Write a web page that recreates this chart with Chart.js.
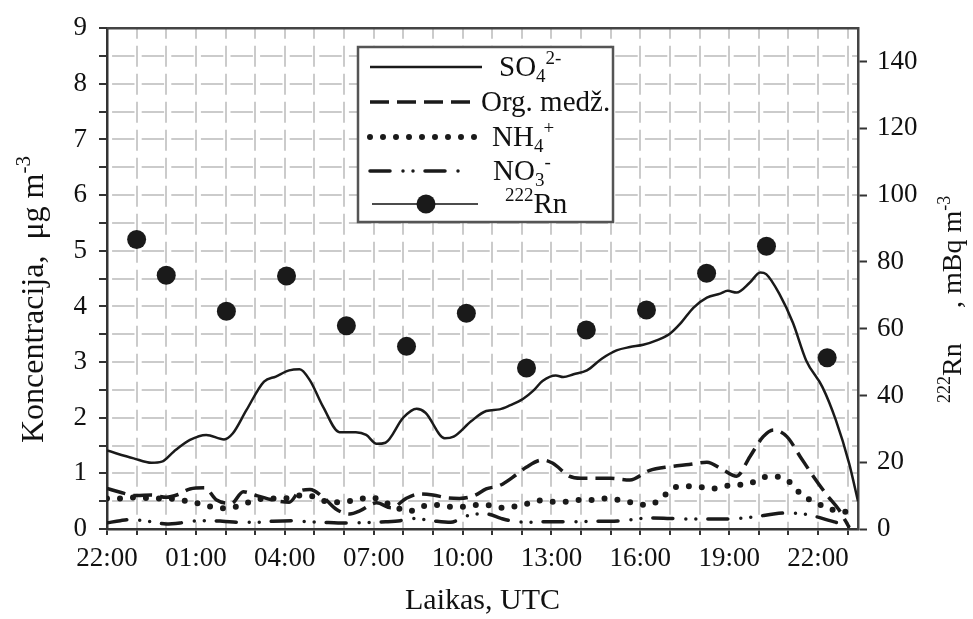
<!DOCTYPE html>
<html>
<head>
<meta charset="utf-8">
<script src="https://cdn.jsdelivr.net/npm/chart.js@4.4.1/dist/chart.umd.min.js"></script>
<style>
html,body{margin:0;padding:0;background:#fff;}
#wrap{width:973px;height:619px;position:relative;}
</style>
</head>
<body>
<div id="wrap"><canvas id="c" width="973" height="619"></canvas></div>
<script>
// ---- data (hours after 22:00 UTC) ----
const timeLabels = ['22:00','01:00','04:00','07:00','10:00','13:00','16:00','19:00','22:00'];

const so4Hours  = [0,0.9,1.5,1.85,2.25,2.8,3.35,3.95,4.25,4.7,5.3,5.7,6.15,6.5,6.85,7.3,7.85,8.4,8.75,9.1,9.4,10.0,10.45,10.75,11.4,11.7,12.3,12.8,13.25,13.6,14.05,14.4,14.7,15.15,15.4,15.75,16.2,16.7,17.2,17.65,18.1,18.55,19.0,19.35,19.8,20.25,20.7,20.95,21.25,21.7,22.05,22.25,22.7,23.15,23.6,24.15,24.6,25.05,25.35];
const so4Values = [1.41,1.27,1.19,1.21,1.39,1.6,1.69,1.61,1.72,2.13,2.65,2.74,2.85,2.87,2.67,2.19,1.74,1.74,1.69,1.53,1.55,2.0,2.16,2.09,1.63,1.66,1.94,2.12,2.15,2.22,2.34,2.49,2.66,2.76,2.73,2.78,2.85,3.06,3.21,3.27,3.31,3.39,3.51,3.69,3.98,4.16,4.23,4.28,4.25,4.43,4.61,4.58,4.22,3.71,3.03,2.55,1.96,1.18,0.5];

const orgHours  = [0,0.45,1.0,1.5,2.0,2.4,2.8,3.3,3.7,4.2,4.6,5.05,5.6,6.15,6.5,6.85,7.3,7.75,8.2,8.55,9.1,9.6,10.1,10.55,11.0,11.5,11.9,12.4,12.8,13.25,13.8,14.15,14.7,15.05,15.6,16.0,16.5,17.0,17.65,18.3,19.0,19.65,20.25,20.8,21.25,21.7,22.15,22.5,22.95,23.4,23.85,24.3,24.7,25.05];
const orgValues = [0.73,0.66,0.6,0.61,0.57,0.62,0.72,0.74,0.52,0.46,0.67,0.6,0.52,0.48,0.68,0.71,0.57,0.35,0.27,0.33,0.47,0.38,0.55,0.63,0.61,0.56,0.55,0.6,0.72,0.78,0.97,1.11,1.24,1.18,0.95,0.91,0.91,0.91,0.88,1.05,1.12,1.16,1.2,1.06,0.95,1.3,1.66,1.78,1.66,1.3,0.94,0.61,0.35,0.03];

const nh4Hours  = [0,0.5,1,1.5,2,2.5,3,3.5,4,4.5,5,5.5,6,6.5,7,7.5,8,8.5,8.9,9.5,10.2,10.6,11.1,11.5,12,12.4,12.8,13.26,13.7,14.16,14.6,15.06,15.5,15.96,16.4,16.86,17.3,17.76,18.2,18.66,19.05,19.5,19.95,20.4,20.85,21.3,21.75,22.15,22.6,23.05,23.4,23.85,24.3,24.75,25.2];
const nh4Values = [0.55,0.55,0.57,0.55,0.55,0.52,0.47,0.40,0.37,0.42,0.52,0.55,0.55,0.6,0.58,0.48,0.49,0.53,0.57,0.45,0.32,0.40,0.43,0.40,0.40,0.43,0.43,0.38,0.40,0.45,0.51,0.49,0.49,0.52,0.52,0.55,0.52,0.47,0.43,0.52,0.72,0.77,0.76,0.72,0.77,0.79,0.83,0.93,0.94,0.84,0.64,0.49,0.39,0.31,0.31];

const no3Hours  = [0,0.45,0.8,1.2,1.6,2.0,2.5,2.9,3.4,3.9,4.5,5.0,5.6,6.3,6.8,7.3,7.8,8.4,8.9,9.4,9.9,10.3,10.7,11.1,11.6,12.0,12.4,12.8,13.3,13.7,14.2,14.8,15.4,16.0,16.5,17.0,17.6,18.3,19.0,19.6,20.3,20.9,21.5,22.0,22.5,23.0,23.5,23.95,24.4,24.85,25.05];
const no3Values = [0.11,0.15,0.17,0.15,0.12,0.09,0.11,0.14,0.15,0.14,0.12,0.12,0.14,0.15,0.13,0.12,0.11,0.11,0.12,0.13,0.15,0.19,0.17,0.14,0.12,0.2,0.27,0.27,0.19,0.14,0.12,0.13,0.13,0.13,0.14,0.14,0.16,0.2,0.19,0.18,0.18,0.18,0.2,0.23,0.27,0.29,0.27,0.22,0.15,0.08,0.04];

const rnHours  = [1.0,2.0,4.03,6.06,8.08,10.11,12.13,14.16,16.18,18.21,20.24,22.26,24.31];
const rnValues = [86.7,76.0,65.2,75.8,60.9,54.7,64.6,48.2,59.6,65.6,76.6,84.7,51.3];

const xTickHours = [0,1,2,3,4,5,6,7,8,9,10,11,12,13,14,15,16,17,18,19,20,21,22,23,24,25];
const yTicks  = [0,0.5,1,1.5,2,2.5,3,3.5,4,4.5,5,5.5,6,6.5,7,7.5,8,8.5,9];
const y2Ticks = [0,20,40,60,80,100,120,140];

const seriesNames = ['SO₄²⁻','Org. medž.','NH₄⁺','NO₃⁻','²²²Rn'];

function pts(xs, ys){ return xs.map((x,i)=>({x:x, y:ys[i]})); }

// ---- helpers for rich text (sub/superscripts) ----
const SERIF = '"Liberation Serif","Times New Roman",serif';
function drawRich(ctx, parts, x, y, size){
  let cx = x;
  parts.forEach(p=>{
    if (p.gap){ cx += p.gap; return; }
    let fs = size, dy = 0;
    if (p.k === 'sub'){ fs = Math.round(size*0.66); dy = size*0.2; }
    if (p.k === 'sup'){ fs = Math.round(size*0.66); dy = -size*0.4; }
    ctx.font = fs + 'px ' + SERIF;
    ctx.fillText(p.t, cx, y + dy);
    cx += ctx.measureText(p.t).width;
  });
  return cx;
}

const legendRich = [
  [{t:'SO'},{t:'4',k:'sub'},{t:'2-',k:'sup'}],
  [{t:'Org. medž.'}],
  [{t:'NH'},{t:'4',k:'sub'},{t:'+',k:'sup'}],
  [{t:'NO'},{t:'3',k:'sub'},{t:'-',k:'sup'}],
  [{t:'222',k:'sup'},{t:'Rn'}]
];

const framePlugin = {
  id:'frame',
  beforeDatasetsDraw(chart){
    const {ctx, chartArea:a} = chart;
    ctx.save();
    ctx.strokeStyle = '#444'; ctx.lineWidth = 2.5;
    ctx.beginPath(); ctx.moveTo(a.left, a.top); ctx.lineTo(a.right, a.top); ctx.stroke();
    ctx.restore();
  }
};

const legendPlugin = {
  id:'richLegend',
  afterDraw(chart){
    const ctx = chart.ctx;
    ctx.save();
    const bx=358, by=47, bw=255, bh=175;
    ctx.fillStyle='#fff'; ctx.fillRect(bx,by,bw,bh);
    ctx.lineWidth=2.5; ctx.strokeStyle='#555'; ctx.strokeRect(bx,by,bw,bh);
    const rowY=[67,102,137,171,204];
    const lineEnd=[482,473,478,467,478];
    const textX=[499,481,492,493,505];
    chart.data.datasets.forEach((ds,i)=>{
      const y=rowY[i];
      ctx.save();
      if (ds.showLine===false){
        ctx.lineWidth=1.5; ctx.strokeStyle='#111';
        ctx.beginPath(); ctx.moveTo(372,y); ctx.lineTo(lineEnd[i],y); ctx.stroke();
        ctx.fillStyle=ds.backgroundColor;
        ctx.beginPath(); ctx.arc(426,y,ds.pointRadius,0,Math.PI*2); ctx.fill();
      } else {
        ctx.lineWidth=ds.borderWidth; ctx.strokeStyle=ds.borderColor;
        ctx.setLineDash(ds.borderDash||[]); ctx.lineCap=ds.borderCapStyle||'butt';
        ctx.beginPath(); ctx.moveTo(370,y); ctx.lineTo(lineEnd[i],y); ctx.stroke();
      }
      ctx.restore();
      ctx.fillStyle='#111'; ctx.textBaseline='alphabetic'; ctx.textAlign='left';
      drawRich(ctx, legendRich[i], textX[i], y+9, 29);
    });
    ctx.restore();
  }
};

const titlesPlugin = {
  id:'axisTitles',
  afterDraw(chart){
    const ctx = chart.ctx;
    ctx.save();
    ctx.fillStyle='#111'; ctx.textBaseline='alphabetic'; ctx.textAlign='left';
    // left title
    ctx.save();
    ctx.translate(43, 443); ctx.rotate(-Math.PI/2);
    drawRich(ctx, [{t:'Koncentracija,  μg m'},{t:'-3',k:'sup'}], 0, 0, 32);
    ctx.restore();
    // right title
    ctx.save();
    ctx.translate(961, 403); ctx.rotate(-Math.PI/2);
    drawRich(ctx, [{t:'222',k:'sup'},{t:'Rn'}], 0, 0, 28);
    drawRich(ctx, [{t:', mBq m'},{t:'-3',k:'sup'}], 95, 0, 28);
    ctx.restore();
    ctx.restore();
  }
};

const tickFont = {family: SERIF, size: 27};

new Chart(document.getElementById('c'), {
  type:'line',
  data:{
    datasets:[
      {label:seriesNames[0], data:pts(so4Hours,so4Values), yAxisID:'y', borderColor:'#1a1a1a', borderWidth:2.5, pointRadius:0, cubicInterpolationMode:'monotone', fill:false},
      {label:seriesNames[1], data:pts(orgHours,orgValues), yAxisID:'y', borderColor:'#1a1a1a', borderWidth:3.5, borderDash:[19,8], pointRadius:0, cubicInterpolationMode:'monotone', fill:false},
      {label:seriesNames[2], data:pts(nh4Hours,nh4Values), yAxisID:'y', borderColor:'#1a1a1a', borderWidth:6, borderDash:[0,13], borderCapStyle:'round', pointRadius:0, cubicInterpolationMode:'monotone', fill:false},
      {label:seriesNames[3], data:pts(no3Hours,no3Values), yAxisID:'y', borderColor:'#1a1a1a', borderWidth:3.5, borderDash:[20,13,0,10,0,12], borderCapStyle:'round', pointRadius:0, cubicInterpolationMode:'monotone', fill:false},
      {label:seriesNames[4], data:pts(rnHours,rnValues), yAxisID:'y2', showLine:false, pointRadius:9.5, pointHoverRadius:9.5, backgroundColor:'#1a1a1a', borderColor:'#1a1a1a', pointBorderWidth:0}
    ]
  },
  options:{
    responsive:false,
    animation:false,
    devicePixelRatio:1,
    layout:{padding:{top:26,left:0,right:0,bottom:0}},
    plugins:{legend:{display:false}, tooltip:{enabled:false}},
    scales:{
      x:{
        type:'linear', min:0, max:25.35,
        afterBuildTicks:(s)=>{ s.ticks = xTickHours.map(v=>({value:v})); },
        afterFit:(s)=>{ s.height = 90; },
        ticks:{autoSkip:false, maxRotation:0, minRotation:0, padding:8, font:tickFont, color:'#111',
          callback:(v)=> (Number.isInteger(v) && v%3===0 && timeLabels[v/3]!==undefined) ? timeLabels[v/3] : ''},
        grid:{color:'#cbcbcb', lineWidth:2, tickLength:6, tickColor:'#333', tickWidth:2},
        border:{display:true, color:'#333', width:2.5, dash:[21,7], dashOffset:10.5},
        title:{display:true, text:'Laikas, UTC', font:{family:SERIF, size:30}, color:'#111', padding:{top:0,bottom:0}}
      },
      y:{
        type:'linear', position:'left', min:0, max:9,
        afterBuildTicks:(s)=>{ s.ticks = yTicks.map(v=>({value:v})); },
        afterFit:(s)=>{ s.width = 107; },
        ticks:{autoSkip:false, padding:12, font:tickFont, color:'#111',
          callback:(v)=> Number.isInteger(v) ? String(v) : ''},
        grid:{color:'#cbcbcb', lineWidth:2, tickLength:8, tickColor:'#333', tickWidth:2},
        border:{display:true, color:'#333', width:2.5, dash:[22.4,7.2], dashOffset:26}
      },
      y2:{
        type:'linear', position:'right', min:0, max:150,
        afterBuildTicks:(s)=>{ s.ticks = y2Ticks.map(v=>({value:v})); },
        afterFit:(s)=>{ s.width = 115; },
        ticks:{autoSkip:false, padding:10, font:tickFont, color:'#111'},
        grid:{drawOnChartArea:false, tickLength:9, tickColor:'#333', tickWidth:2},
        border:{display:true, color:'#444', width:2.5}
      }
    }
  },
  plugins:[framePlugin, legendPlugin, titlesPlugin]
});
</script>
</body>
</html>
